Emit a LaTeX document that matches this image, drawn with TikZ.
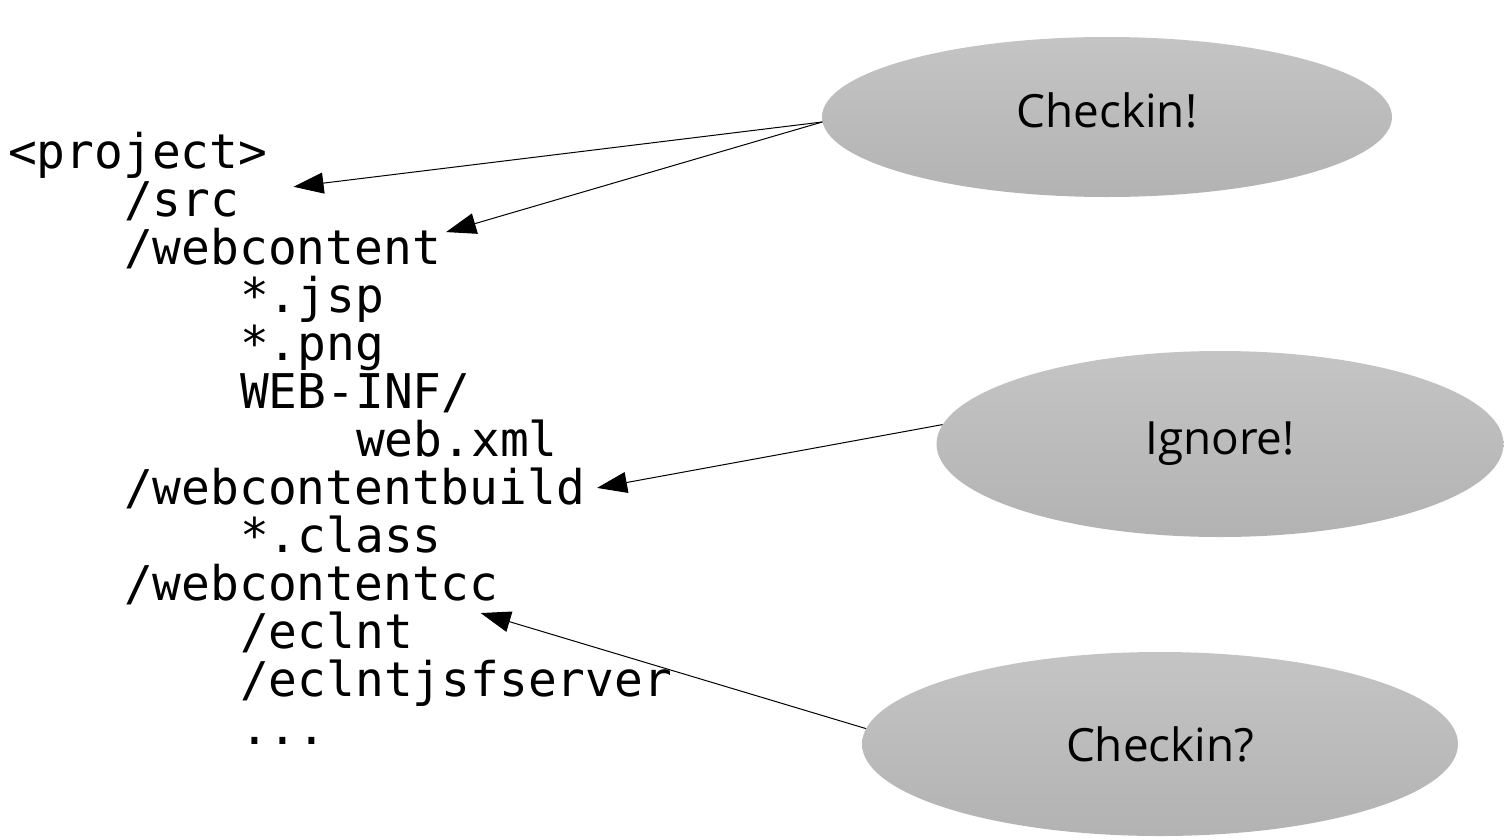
\documentclass[tikz,border=0pt]{standalone}
\usepackage{fontspec}
\usetikzlibrary{calc,shapes.geometric,arrows.meta}
\newfontfamily\treefont{DejaVu Sans Mono}
\newfontfamily\notefont{Open Sans}

\tikzset{
  line/.style={anchor=base west, inner sep=0pt, font=\treefont\fontsize{48}{48}\selectfont},
  blob/.style={ellipse, inner sep=0pt, top color=black!23, bottom color=black!30,
    font=\notefont\fontsize{46}{48}\selectfont},
  pointer/.style={line width=1bp, -{Triangle[length=30bp,width=21bp]}}
}

\begin{document}
\begin{tikzpicture}[x=1bp,y=-1bp]
				\useasboundingbox (0,0) rectangle (1504,839);
				
				% the tree
				\node[line] (project) at (8,168) {<project>};
				\node[line] (src) at (124,216) {/src};
				\node[line] (webcontent) at (124,264) {/webcontent};
				\node[line] (jsp) at (240,312) {*.jsp};
				\node[line] (png) at (240,360) {*.png};
				\node[line] (webinf) at (240,408) {WEB-INF/};
				\node[line] (webxml) at (356,456) {web.xml};
				\node[line] (build) at (124,504) {/webcontentbuild};
				\node[line] (class) at (240,552) {*.class};
				\node[line] (cc) at (124,600) {/webcontentcc};
				\node[line] (eclnt) at (240,648) {/eclnt};
				\node[line] (jsfserver) at (240,696) {/eclntjsfserver};
				\node[line] (more) at (240,744) {...};
				
				% the notes
				\node[blob, minimum width=570bp, minimum height=160bp] (checkin) at (1107,117) {\raisebox{14bp}{Checkin!}};
				\node[blob, minimum width=567bp, minimum height=186bp] (ignore) at (1220,444) {Ignore!};
				\node[blob, minimum width=596bp, minimum height=184bp] (maybe) at (1160,744) {Checkin?};
				
				\draw[pointer] (checkin.181) -- ($(src.east)+(54,-14)$);
				\draw[pointer] (checkin.181) -- ($(webcontent.east)+(5,-16)$);
				\draw[pointer] (ignore.176) -- ($(build.east)+(12,0)$);
				\draw[pointer] (maybe.177) -- ($(cc.east)+(-18,29)$);
			\end{tikzpicture}
\end{document}
